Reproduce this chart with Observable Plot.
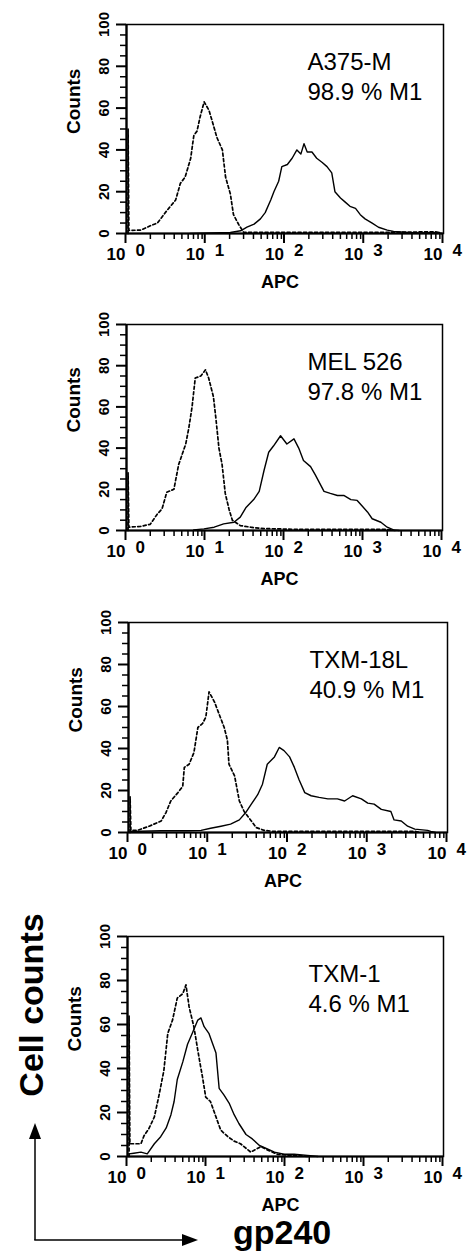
<!DOCTYPE html>
<html><head><meta charset="utf-8">
<script src="https://cdn.jsdelivr.net/npm/d3@7"></script>
<script src="https://cdn.jsdelivr.net/npm/@observablehq/plot@0.6"></script>
<style>
body{margin:0;background:#fff;}
#root{position:relative;width:467px;height:1256px;overflow:hidden;font-family:"Liberation Sans",Arial,sans-serif;}
#root svg{position:absolute;left:0;}
</style></head><body><div id="root"></div>
<script>
// ---- labels ----
const cellLines = ["A375-M", "MEL 526", "TXM-18L", "TXM-1"];
const percentM1 = ["98.9 % M1", "97.8 % M1", "40.9 % M1", "4.6 % M1"];
const xAxisTitle = "APC";
const yAxisTitle = "Counts";
const bigYTitle = "Cell counts";
const bigXTitle = "gp240";
const decades = [1, 10, 100, 1000, 10000];
const exponents = ["0", "1", "2", "3", "4"];
const yTicks = [0, 20, 40, 60, 80, 100];
const yMinorTicks = [5,10,15,25,30,35,45,50,55,65,70,75,85,90,95];
const xMinorTicks = [2,3,4,5,6,7,8,9,20,30,40,50,60,70,80,90,200,300,400,500,600,700,800,900,2000,3000,4000,5000,6000,7000,8000,9000];

// ---- data: [log10(APC), counts] ----
const a375Control = [[0.02,0],[0.02,50],[0.03,1.5],[0.18,1.6],[0.30,3.7],[0.39,5],[0.51,11],[0.62,16],[0.68,24],[0.74,27],[0.81,36],[0.85,47],[0.89,49],[0.93,56],[0.98,63],[1.04,59],[1.08,54],[1.14,46],[1.21,40],[1.25,27],[1.31,19],[1.35,9],[1.42,4],[1.48,0.5],[2.0,0.5],[3.0,0.5],[3.9,0.8],[3.98,0]];
const a375Stained = [[0.8,0],[1.31,0.5],[1.44,1.3],[1.52,3],[1.61,4.5],[1.69,7],[1.75,10],[1.82,16],[1.86,20],[1.92,25],[1.96,32],[2.03,33],[2.09,36],[2.15,40],[2.20,38],[2.24,43],[2.28,39],[2.34,39],[2.40,36],[2.47,34],[2.53,32],[2.59,29],[2.63,20],[2.70,17],[2.76,15],[2.82,13],[2.89,12],[2.95,9],[3.01,7],[3.10,5],[3.18,3],[3.29,1.6],[3.37,1],[3.54,0.5],[3.71,0.3],[3.95,0.5]];
const mel526Control = [[0.02,0],[0.02,28],[0.03,1.6],[0.18,2],[0.30,3],[0.39,8],[0.45,10.5],[0.51,18.6],[0.60,20],[0.66,32],[0.75,42],[0.79,50],[0.83,60],[0.87,74],[0.94,75],[1.00,78],[1.04,74],[1.10,65],[1.13,55],[1.17,40],[1.21,32],[1.25,18],[1.30,10],[1.34,5],[1.44,2.4],[1.57,1.6],[1.70,1],[2.2,0.5],[3.3,0.5],[3.4,0]];
const mel526Stained = [[0.85,0.3],[0.98,0.8],[1.11,1.6],[1.23,3.2],[1.36,4],[1.44,6.5],[1.51,11],[1.61,15],[1.68,19],[1.74,29],[1.80,38],[1.86,41],[1.95,46],[2.03,42],[2.12,44.5],[2.18,40],[2.24,34],[2.33,31],[2.39,27],[2.50,19],[2.58,18],[2.67,17],[2.75,17],[2.84,15],[2.92,14.6],[2.98,12],[3.05,9],[3.11,5.7],[3.22,4],[3.30,1.6],[3.38,0.3],[3.45,0]];
const txm18lControl = [[0.02,0],[0.02,17],[0.03,1],[0.11,1],[0.26,3],[0.41,5.5],[0.47,9.5],[0.53,15],[0.62,19],[0.68,22],[0.70,31],[0.76,32.5],[0.82,38],[0.87,50],[0.93,52],[0.97,55],[1.01,67],[1.08,62],[1.14,56],[1.20,50],[1.24,44],[1.26,32.5],[1.33,27],[1.39,15],[1.45,10],[1.54,5.5],[1.60,2.4],[1.70,1],[1.83,0.5],[3.6,0.5],[3.65,0]];
const txm18lStained = [[0.03,0.5],[0.41,0.8],[0.74,0.8],[0.91,1],[1.03,2],[1.16,3],[1.28,4],[1.39,6],[1.47,9.5],[1.54,13.5],[1.62,18],[1.68,23],[1.74,32.5],[1.83,36],[1.89,40.5],[1.95,39],[2.02,36],[2.08,31],[2.14,25],[2.21,19],[2.29,17.5],[2.39,16.7],[2.50,16],[2.62,16],[2.71,15],[2.81,17.5],[2.92,16],[3.00,14],[3.08,13.5],[3.17,11],[3.29,10],[3.33,6],[3.42,5.5],[3.50,3],[3.59,1.6],[3.75,1],[3.79,0.5],[3.85,0]];
const txm1Control = [[0.02,0],[0.02,64],[0.03,5.8],[0.17,5.8],[0.21,9.5],[0.27,12.6],[0.34,18],[0.40,28],[0.46,39],[0.51,56],[0.57,62],[0.63,72],[0.70,74],[0.74,78],[0.78,68],[0.84,59],[0.91,44],[0.95,36],[0.99,27],[1.05,25],[1.12,18],[1.18,12],[1.27,9],[1.35,7],[1.43,5.8],[1.56,2],[1.69,4.5],[1.77,3],[1.90,1],[2.07,0.5],[2.19,0.3],[2.3,0]];
const txm1Stained = [[0.02,1.2],[0.08,1.5],[0.17,2],[0.25,1.2],[0.34,5.8],[0.42,9],[0.49,13],[0.55,19],[0.59,25],[0.63,35],[0.70,43],[0.76,51],[0.82,56],[0.89,62],[0.93,63],[0.97,59],[1.03,56],[1.08,51],[1.12,47],[1.16,31],[1.22,28],[1.29,24],[1.35,19],[1.41,15],[1.50,10],[1.58,8],[1.67,5],[1.77,3.5],[1.86,2],[1.98,1],[2.11,1],[2.28,0.5],[2.41,0]];

const controls = [a375Control, mel526Control, txm18lControl, txm1Control];
const stainings = [a375Stained, mel526Stained, txm18lStained, txm1Stained];

// ---- layout (not data) ----
const layout = [
  {top: 0,   ml: 126, mr: 24, mb: 67, h: 300},
  {top: 300, ml: 126, mr: 25, mb: 70, h: 300},
  {top: 598, ml: 128, mr: 20, mb: 66, h: 300},
  {top: 912, ml: 127, mr: 24, mb: 56, h: 300}
];

const root = document.getElementById("root");
const font = "Liberation Sans, Arial, sans-serif";

function rows(pairs) { return pairs.map(([lx, c]) => ({apc: 10 ** lx, count: c})); }

for (let i = 0; i < 4; i++) {
  const L = layout[i];
  const svg = Plot.plot({
    width: 467, height: L.h,
    marginTop: 24, marginLeft: L.ml, marginRight: L.mr, marginBottom: L.mb,
    style: {fontFamily: font, background: "transparent", overflow: "visible", color: "#000"},
    x: {type: "log", domain: [1, 10000], label: null},
    y: {domain: [0, 100], label: null},
    marks: [
      Plot.line(rows(stainings[i]), {x: "apc", y: "count", stroke: "#000", strokeWidth: 1.4}),
      Plot.line(rows(controls[i]), {x: "apc", y: "count", stroke: "#000", strokeWidth: 1.7, strokeDasharray: "3,2.5"}),
      Plot.frame({stroke: "#000", strokeWidth: 1.5}),
      Plot.ruleX([1], {stroke: "#000", strokeWidth: 2.2}),
      Plot.ruleY([0], {stroke: "#000", strokeWidth: 2}),
      Plot.axisY({ticks: yMinorTicks, tickSize: 6, text: null, strokeWidth: 1.5, label: null}),
      Plot.axisY({ticks: yTicks, tickSize: 10, strokeWidth: 2, tickRotate: -90, tickPadding: 8,
                  fontSize: 15, fontWeight: "bold", label: null}),
      Plot.axisX({ticks: xMinorTicks, tickSize: 6, text: null, strokeWidth: 1.5, label: null}),
      Plot.axisX({ticks: decades, tickSize: 10, strokeWidth: 2, tickFormat: () => "10", textAnchor: "end",
                  dx: -1, tickPadding: 4, fontSize: 17, fontWeight: "bold", label: null}),
      Plot.text(exponents, {x: (d, j) => decades[j], text: d => d, frameAnchor: "bottom", textAnchor: "start",
                lineAnchor: "top", dx: 9, dy: 10, fontSize: 17, fontWeight: "bold"}),
      Plot.text([xAxisTitle], {frameAnchor: "bottom", lineAnchor: "bottom", dy: 54, dx: -5,
                fontSize: 18, fontWeight: "bold"}),
      Plot.text([yAxisTitle], {frameAnchor: "left", rotate: -90, dx: -53, dy: 5,
                fontSize: 19, fontWeight: "bold"}),
      Plot.text([cellLines[i] + "\n" + percentM1[i]], {frameAnchor: "top-left", textAnchor: "start",
                lineAnchor: "top", dx: 181, dy: 24, fontSize: 24, lineHeight: 1.25})
    ]
  });
  svg.style.top = L.top + "px";
  root.appendChild(svg);
}

// ---- overall axis titles with arrows ----
const ov = d3.select(root).append("svg")
  .attr("width", 467).attr("height", 1256)
  .style("top", "0px").style("pointer-events", "none")
  .style("font-family", font);
ov.append("text").attr("transform", "translate(43,1005) rotate(-90)")
  .attr("text-anchor", "middle").attr("font-size", 34).attr("font-weight", "bold").text(bigYTitle);
ov.append("line").attr("x1", 35).attr("y1", 1240).attr("x2", 35).attr("y2", 1136)
  .attr("stroke", "#000").attr("stroke-width", 1.5);
ov.append("polygon").attr("points", "35,1123 29,1139 41,1139").attr("fill", "#000");
ov.append("line").attr("x1", 34.25).attr("y1", 1240).attr("x2", 186).attr("y2", 1240)
  .attr("stroke", "#000").attr("stroke-width", 1.5);
ov.append("polygon").attr("points", "198,1240 182,1234 182,1246").attr("fill", "#000");
ov.append("text").attr("x", 233).attr("y", 1244).attr("font-size", 34).attr("font-weight", "bold").text(bigXTitle);
</script></body></html>
